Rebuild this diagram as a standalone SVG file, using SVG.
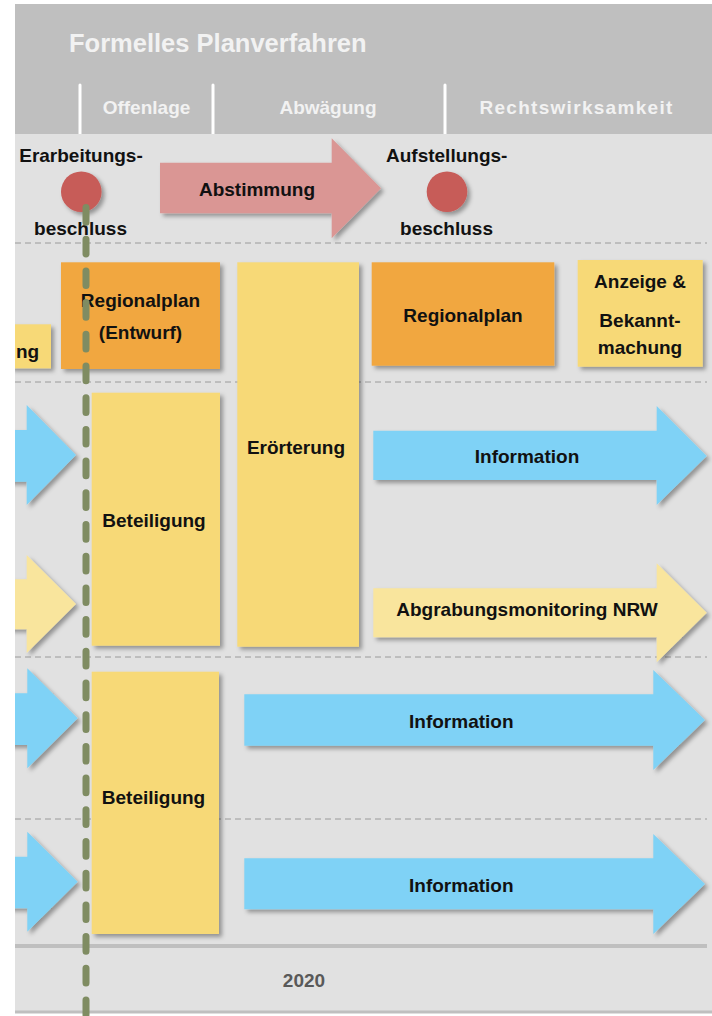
<svg xmlns="http://www.w3.org/2000/svg" width="712" height="1016" viewBox="0 0 712 1016">
  <defs>
    <filter id="sh" x="-10%" y="-10%" width="130%" height="130%">
      <feDropShadow dx="3" dy="3" stdDeviation="2" flood-color="#000" flood-opacity="0.35"/>
    </filter>
    <clipPath id="body"><rect x="15" y="134" width="697" height="882"/></clipPath>
  </defs>
  <style>
    .hdr { font-family: "Liberation Sans", Arial, sans-serif; font-weight: bold; fill: #f2f2f2; }
    .t { font-family: "Liberation Sans", Arial, sans-serif; font-weight: bold; font-size: 19px; fill: #111; text-anchor: middle; }
    .sep { stroke: #fff; stroke-width: 3; stroke-linecap: round; }
    .row { stroke: #9a9a9a; stroke-width: 1; stroke-dasharray: 6 4; }
    .orange { fill: #f1a740; filter: url(#sh); }
    .yellow { fill: #f7d977; filter: url(#sh); }
    .pale { fill: #f9e59d; filter: url(#sh); }
    .blue { fill: #7fd2f6; filter: url(#sh); }
    .pink { fill: #da9694; filter: url(#sh); }
    .dot { fill: #c75b58; filter: url(#sh); }
  </style>
  <rect width="712" height="1016" fill="#fff"/>

  <!-- header -->
  <g id="header">
    <rect x="15" y="4" width="697" height="130" fill="#bfbfbf"/>
    <text class="hdr" x="69" y="52" font-size="25.5">Formelles Planverfahren</text>
    <line class="sep" x1="80" y1="85" x2="80" y2="134"/>
    <line class="sep" x1="213" y1="85" x2="213" y2="134"/>
    <line class="sep" x1="445" y1="85" x2="445" y2="134"/>
    <text class="hdr" x="146.5" y="114" font-size="19" text-anchor="middle">Offenlage</text>
    <text class="hdr" x="328" y="114" font-size="19" text-anchor="middle">Abwägung</text>
    <text class="hdr" x="576.5" y="114" font-size="19" text-anchor="middle" letter-spacing="1.3">Rechtswirksamkeit</text>
  </g>

  <!-- body background -->
  <g id="background">
    <rect x="15" y="134" width="697" height="879" fill="#e1e1e1"/>
    <line class="row" x1="15" y1="243" x2="707" y2="243"/>
    <line class="row" x1="15" y1="382" x2="707" y2="382"/>
    <line class="row" x1="15" y1="657" x2="707" y2="657"/>
    <line class="row" x1="15" y1="819" x2="707" y2="819"/>
    <line x1="15" y1="946" x2="707" y2="946" stroke="#bfbfbf" stroke-width="4"/>
    <line x1="15" y1="1012" x2="712" y2="1012" stroke="#bfbfbf" stroke-width="3"/>
    <text class="t" x="304" y="987" fill="#595959" style="fill:#595959">2020</text>
  </g>

  <g clip-path="url(#body)">
    <!-- milestones -->
    <g id="erarbeitungsbeschluss">
      <circle class="dot" cx="81.3" cy="191.7" r="20.3"/>
      <text class="t" x="81" y="162">Erarbeitungs-</text>
      <text class="t" x="80.5" y="235">beschluss</text>
    </g>
    <g id="aufstellungsbeschluss">
      <circle class="dot" cx="447" cy="191.7" r="20.3"/>
      <text class="t" x="446.7" y="162">Aufstellungs-</text>
      <text class="t" x="446.5" y="235">beschluss</text>
    </g>
    <g id="abstimmung">
      <path class="pink" d="M160,162.7 H331.7 V138.3 L381,188.3 L331.7,238.3 V213.3 H160 Z"/>
      <text class="t" x="257" y="196">Abstimmung</text>
    </g>

    <!-- row 1 -->
    <g id="vorbereitung">
      <rect class="yellow" x="10" y="324.3" width="41" height="44"/>
      <text class="t" x="16" y="358.3" style="text-anchor:start">ng</text>
    </g>
    <g id="regionalplan-entwurf">
      <rect class="orange" x="61" y="262.3" width="159" height="106.7"/>
      <text class="t" x="140.5" y="306.7">Regionalplan</text>
      <text class="t" x="140.5" y="339">(Entwurf)</text>
    </g>
    <g id="eroerterung">
      <rect class="yellow" x="237.3" y="262.3" width="121.7" height="384.4"/>
      <text class="t" x="296" y="454">Erörterung</text>
    </g>
    <g id="regionalplan">
      <rect class="orange" x="371.7" y="262.3" width="182.6" height="103.4"/>
      <text class="t" x="463" y="321.7">Regionalplan</text>
    </g>
    <g id="anzeige">
      <rect class="yellow" x="577.7" y="260" width="125" height="106.7"/>
      <text class="t" x="640" y="288.3">Anzeige &amp;</text>
      <text class="t" x="640" y="326.7">Bekannt-</text>
      <text class="t" x="640" y="354">machung</text>
    </g>

    <!-- row 2 -->
    <g id="arrow-left-1">
      <path class="blue" d="M5,430 H26.7 V405 L76,455 L26.7,505 V481.7 H5 Z"/>
    </g>
    <g id="arrow-left-2">
      <path class="pale" d="M5,579.3 H26.7 V555 L76,604 L26.7,653 V629.3 H5 Z"/>
    </g>
    <g id="beteiligung-1">
      <rect class="yellow" x="91.7" y="392.7" width="128.3" height="253"/>
      <text class="t" x="154" y="526.7">Beteiligung</text>
    </g>
    <g id="information-1">
      <path class="blue" d="M373.3,430.7 H656.7 V406 L706.7,456 L656.7,505 V480 H373.3 Z"/>
      <text class="t" x="527" y="463.3">Information</text>
    </g>
    <g id="abgrabungsmonitoring">
      <path class="pale" d="M373.3,588.3 H656.7 V563.3 L706.7,612.8 L656.7,662.3 V637.3 H373.3 Z"/>
      <text class="t" x="527" y="615.7">Abgrabungsmonitoring NRW</text>
    </g>

    <!-- rows 3 and 4 -->
    <g id="arrow-left-3">
      <path class="blue" d="M5,693.3 H27.3 V668.3 L77.7,718.3 L27.3,768.3 V745 H5 Z"/>
    </g>
    <g id="arrow-left-4">
      <path class="blue" d="M5,856.7 H27.3 V831.7 L77.7,881.7 L27.3,931.7 V908.3 H5 Z"/>
    </g>
    <g id="beteiligung-2">
      <rect class="yellow" x="91.7" y="671.7" width="127.3" height="262.3"/>
      <text class="t" x="153.5" y="804">Beteiligung</text>
    </g>
    <g id="information-2">
      <path class="blue" d="M244.3,694.3 H653.3 V670 L705,720 L653.3,770 V745.7 H244.3 Z"/>
      <text class="t" x="461.3" y="728.3">Information</text>
    </g>
    <g id="information-3">
      <path class="blue" d="M244.3,858.3 H653.3 V834 L705,884 L653.3,934 V909.3 H244.3 Z"/>
      <text class="t" x="461.3" y="891.7">Information</text>
    </g>
  </g>

  <!-- connectors / timeline marker -->
  <g id="connectors">
    <line x1="86" y1="207.5" x2="86" y2="1016" stroke="#7f8c62" stroke-width="7" stroke-linecap="round" stroke-dasharray="14.7 17"/>
  </g>
</svg>
